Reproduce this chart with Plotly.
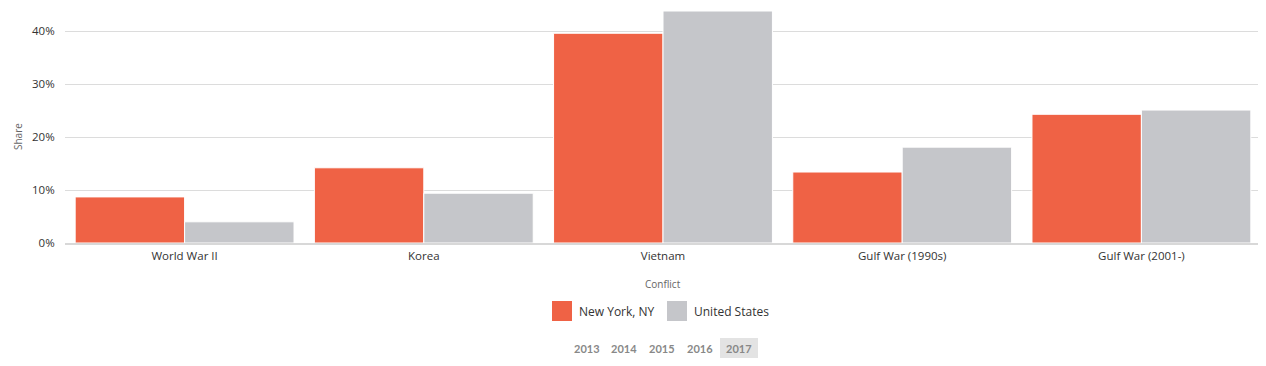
import plotly.graph_objects as go

conflicts = ["World War II", "Korea", "Vietnam", "Gulf War (1990s)", "Gulf War (2001-)"]
ny_share = [0.087, 0.142, 0.396, 0.134, 0.243]
us_share = [0.040, 0.094, 0.438, 0.181, 0.251]
series_names = ["New York, NY", "United States"]
years = ["2013", "2014", "2015", "2016", "2017"]
selected_year = "2017"

NY_COLOR = "#EF6245"
US_COLOR = "#C5C6CA"

OFF = 8  # browser default body margin
W, H = 1266 - OFF, 366 - OFF
# desired plot area in page pixels: x 65..1261, y 11..243
L, R, T, B = 65 - OFF, 5, 11 - OFF, 366 - 243
PW, PH = W - L - R, H - T - B

def px(x):  # page pixel -> paper
    return (x - OFF - L) / PW

def py(y):
    return (H - B - (y - OFF)) / PH

fig = go.Figure()
fig.add_trace(go.Bar(x=conflicts, y=ny_share, name=series_names[0],
                     marker=dict(color=NY_COLOR, line=dict(color="white", width=1)),
                     hovertemplate="%{x}: %{y:.1%}<extra>New York, NY</extra>"))
fig.add_trace(go.Bar(x=conflicts, y=us_share, name=series_names[1],
                     marker=dict(color=US_COLOR, line=dict(color="white", width=1)),
                     hovertemplate="%{x}: %{y:.1%}<extra>United States</extra>"))

shapes = []
annotations = []

# axis titles
annotations.append(dict(text="Share", x=px(18), y=py(137), xref="paper", yref="paper",
                        xanchor="center", yanchor="middle",
                        showarrow=False, textangle=-90,
                        font=dict(size=10, color="#666", family="Open Sans")))
annotations.append(dict(text="Conflict", x=px(663), y=py(284), xref="paper", yref="paper",
                        xanchor="center", yanchor="middle",
                        showarrow=False, font=dict(size=10, color="#666", family="Open Sans")))

# custom legend
leg = [(552, series_names[0], NY_COLOR), (667, series_names[1], US_COLOR)]
for x0, name, col in leg:
    shapes.append(dict(type="rect", xref="paper", yref="paper",
                       x0=px(x0), x1=px(x0 + 20), y0=py(321), y1=py(301),
                       fillcolor=col, line=dict(width=0)))
    annotations.append(dict(text=name, x=px(x0 + 25), y=py(311), xref="paper", yref="paper",
                            xanchor="left", yanchor="middle", showarrow=False,
                            font=dict(size=12, color="#333", family="Open Sans")))

# year selector
year_x = [587, 624, 662, 700, 739]
for yx, yr in zip(year_x, years):
    if yr == selected_year:
        shapes.append(dict(type="rect", xref="paper", yref="paper",
                           x0=px(yx - 19), x1=px(yx + 19), y0=py(358), y1=py(338),
                           fillcolor="#E3E3E3", line=dict(width=0), layer="below"))
    annotations.append(dict(text="<b>" + yr + "</b>", x=px(yx), y=py(348), xref="paper", yref="paper",
                            xanchor="center", yanchor="middle",
                            showarrow=False, font=dict(size=11, color="#888", family="Lato")))

fig.update_layout(
    width=W, height=H,
    margin=dict(l=L, r=R, t=T, b=B, pad=0),
    paper_bgcolor="white", plot_bgcolor="white",
    barmode="group", bargap=0.085, bargroupgap=0,
    showlegend=False,
    font=dict(family="Open Sans", size=11.5, color="#333"),
    shapes=shapes, annotations=annotations,
    xaxis=dict(showgrid=False, showline=True, linecolor="#D8D8D8", linewidth=2,
               ticks="outside", ticklen=1, tickcolor="rgba(0,0,0,0)",
               tickfont=dict(size=11.5, color="#333"), fixedrange=True),
    yaxis=dict(range=[0, 0.438], dtick=0.1, tickformat=".0%", showgrid=True,
               gridcolor="#DCDCDC", gridwidth=1.2, zeroline=False, ticks="outside",
               ticklen=7, tickcolor="rgba(0,0,0,0)", tickfont=dict(size=11.5, color="#333"),
               fixedrange=True),
)

fig.write_html("out.html")
